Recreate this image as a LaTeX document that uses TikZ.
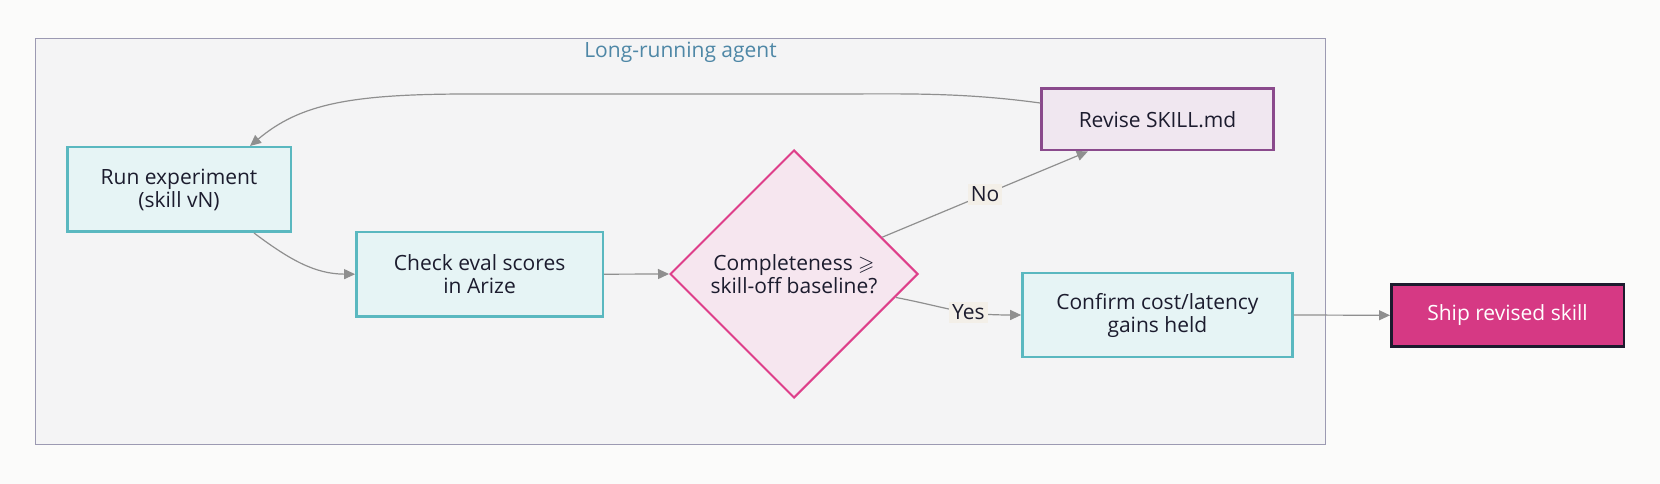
\documentclass[tikz,border=0pt]{standalone}
\usepackage{fontspec}
\setmainfont{Open Sans}
\usepackage{amssymb}
\usetikzlibrary{shapes.geometric,arrows.meta,calc}
\definecolor{pagebg}{HTML}{FBFBFA}
\definecolor{ink}{HTML}{1C1C2E}
\definecolor{tealb}{HTML}{5AB8C0}
\definecolor{tealf}{HTML}{E6F4F5}
\definecolor{diab}{HTML}{DE3F8A}
\definecolor{diaf}{HTML}{F6E6EF}
\definecolor{revb}{HTML}{8A4A8C}
\definecolor{revf}{HTML}{F0E7F0}
\definecolor{shipf}{HTML}{D63984}
\definecolor{shipb}{HTML}{1D1B2E}
\definecolor{grpb}{HTML}{9C9AB2}
\definecolor{grpf}{HTML}{F4F4F5}
\definecolor{conng}{HTML}{8F8F8F}
\definecolor{labbg}{HTML}{F3EFE8}
\definecolor{titlec}{HTML}{4E87A6}
\begin{document}
\begin{tikzpicture}[x=1pt,y=1pt,
  txt/.style={font=\fontsize{21}{23}\selectfont, align=center, text=ink},
  proc/.style={txt, rectangle, draw=tealb, fill=tealf, line width=2.5pt, inner sep=0pt},
  revbox/.style={txt, rectangle, draw=revb, fill=revf, line width=2.5pt, inner sep=0pt},
  decide/.style={txt, diamond, draw=diab, fill=diaf, line width=2pt, inner sep=0pt, aspect=1},
  shipbox/.style={txt, rectangle, draw=shipb, fill=shipf, line width=2.5pt, inner sep=0pt, text=white},
  group/.style={draw=grpb, fill=grpf, line width=1.5pt},
  conn/.style={draw=conng, line width=1.2pt, -{Triangle[length=11pt,width=10pt]}},
  lab/.style={txt, fill=labbg, inner sep=3pt}
]
\path[fill=pagebg] (0,0) rectangle (1660,484);
\useasboundingbox (0,0) rectangle (1660,484);

\node[group, rectangle, minimum width=1290pt, minimum height=406pt, inner sep=0pt] (grp) at (680.5,242.5) {};
\node[txt, text=titlec, anchor=base] (title) at (680.5,426) {Long-running agent};

\node[proc, minimum width=223.5pt, minimum height=84.5pt] (run) at (179,294.5) {Run experiment\\(skill vN)};
\node[proc, minimum width=246.5pt, minimum height=84.5pt] (check) at (479.6,209.8) {Check eval scores\\in Arize};
\node[decide, minimum width=248pt, minimum height=248pt] (dia) at (794,210) {Completeness $\geqslant$\\skill-off baseline?};
\node[revbox, minimum width=232pt, minimum height=61.5pt] (rev) at (1157.5,364.5) {Revise SKILL.md};
\node[proc, minimum width=270pt, minimum height=84pt] (conf) at (1157.4,169) {Confirm cost/latency\\gains held};
\node[shipbox, minimum width=232.5pt, minimum height=62pt] (ship) at (1507.5,168.7) {Ship revised skill};

\coordinate (runin) at ($(run.north)+(71,0)$);
\coordinate (runout) at ($(run.south)+(75,0)$);
\coordinate (revin) at ($(rev.south)+(-69.7,0)$);
\coordinate (diaout) at (896,186.5);

\draw[conn] (rev.172) .. controls (960,392) and (900,390) .. (830,390)
  -- (470,390) .. controls (350,390) and (300,380) .. (runin);
\draw[conn] (runout) .. controls (290,224) and (315,210) .. (check.west);
\draw[conn] (check.east) -- (dia.west);
\draw[conn] (dia) -- node[lab, pos=0.5] (no) {No} (revin);
\draw[conn] (diaout) .. controls (950,176) and (960,169) .. node[lab, pos=0.62] (yes) {Yes} (conf.west);
\draw[conn] (conf.east) -- (ship.west);
\end{tikzpicture}
\end{document}
